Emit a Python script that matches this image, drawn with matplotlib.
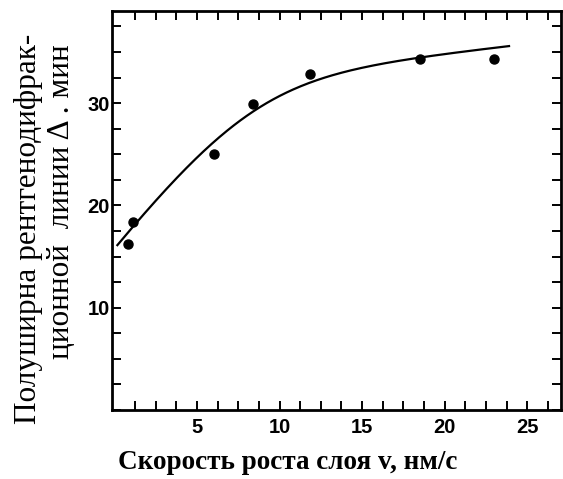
import numpy as np
import matplotlib
matplotlib.use("Agg")
import matplotlib.pyplot as plt
from matplotlib.ticker import MultipleLocator, FixedLocator

# Measured points: growth rate v (nm/s) vs. X-ray line half-width (arc min)
rate = [0.8, 1.1, 6.0, 8.4, 11.85, 18.5, 23.0]
halfwidth = [16.2, 18.4, 25.0, 29.9, 32.8, 34.3, 34.3]

# Points along the trend curve
curve_x = [0.13, 2.56, 3.77, 5.18, 5.97, 8.41, 11.24, 14.27, 18.5, 23.97]
curve_y = [16.0, 20.7, 22.6, 24.9, 26.2, 29.1, 31.7, 33.2, 34.4, 35.6]

x_ticks = [5, 10, 15, 20, 25]
y_ticks = [10, 20, 30]


def hinge_fit(xk, yk):
    """Least-squares fit of a smoothed two-slope line (softplus hinge)."""
    xk = np.asarray(xk, float)
    yk = np.asarray(yk, float)

    def basis(x, x0, k):
        x = np.asarray(x, float)
        return np.column_stack([np.ones_like(x), x,
                                k * np.logaddexp(0, (x - x0) / k)])

    best = None
    for x0 in np.linspace(3, 16, 131):
        for k in np.linspace(0.5, 6, 56):
            A = basis(xk, x0, k)
            p, *_ = np.linalg.lstsq(A, yk, rcond=None)
            err = np.sum((A @ p - yk) ** 2)
            if best is None or err < best[0]:
                best = (err, x0, k, p)
    _, x0, k, p = best
    return lambda x: basis(x, x0, k) @ p


fig = plt.figure(figsize=(5.63, 4.79), dpi=100)
ax = fig.add_axes([0.199, 0.144, 0.7974, 0.833])

trend = hinge_fit(curve_x, curve_y)
xs = np.linspace(curve_x[0], curve_x[-1], 300)
ax.plot(xs, trend(xs), color="black", lw=1.6, solid_capstyle="butt")
ax.plot(rate, halfwidth, "o", color="black", ms=6.5)

ax.set_xlim(-0.15, 27.05)
ax.set_ylim(0, 39)

ax.xaxis.set_major_locator(FixedLocator(x_ticks))
ax.xaxis.set_minor_locator(FixedLocator(np.arange(1.25, 27, 1.25)))
ax.yaxis.set_major_locator(FixedLocator(y_ticks))
ax.yaxis.set_minor_locator(MultipleLocator(2.5))

tick_font = dict(family="Liberation Sans", weight="bold", size=14.5)
ax.set_xticklabels([str(v) for v in x_ticks], fontdict=tick_font)
ax.set_yticklabels([str(v) for v in y_ticks], fontdict=tick_font)

ax.tick_params(which="both", direction="in", top=True, right=True,
               length=6.5, width=1.4, color="black")
ax.tick_params(axis="x", which="major", pad=6)
ax.tick_params(axis="y", which="major", pad=1.5)

for sp in ax.spines.values():
    sp.set_linewidth(2.0)
    sp.set_color("black")

fig.text(0.2096, 0.035, "Скорость роста слоя v, нм/с",
         family="Liberation Serif", weight="bold", size=19.5,
         ha="left", va="center")
fig.text(0.051, 0.522, "Полуширна рентгенодифрак-",
         family="Liberation Serif", size=22.5, rotation=90,
         ha="center", va="center")
fig.text(0.109, 0.580, "ционной  линии \u0394 . мин",
         family="Liberation Serif", size=22.5, rotation=90,
         ha="center", va="center")

fig.savefig("out.png", dpi=100)
